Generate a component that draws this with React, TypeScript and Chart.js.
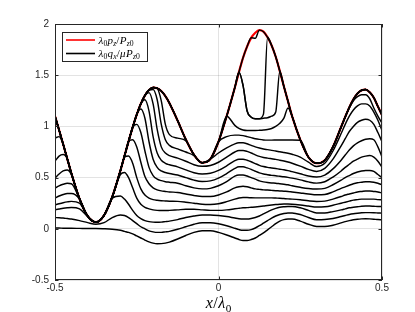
import React, { useEffect, useRef } from "react";
import { Chart, registerables } from "chart.js";
Chart.register(...registerables);

// ---------- data ----------
const xs = [
  -0.5, -0.4875, -0.475, -0.4625, -0.45, -0.425, -0.4, -0.375, -0.35, -0.325,
  -0.3, -0.2875, -0.275, -0.2625, -0.25, -0.2375, -0.225, -0.2125, -0.2, -0.1875,
  -0.175, -0.1625, -0.15, -0.125, -0.1, -0.075, -0.05, -0.025, 0, 0.025,
  0.05, 0.0625, 0.075, 0.0875, 0.1, 0.1125, 0.125, 0.1375, 0.15, 0.1625,
  0.175, 0.1875, 0.2, 0.2125, 0.225, 0.25, 0.275, 0.3, 0.325, 0.35,
  0.375, 0.3875, 0.4, 0.4125, 0.425, 0.4375, 0.45, 0.4625, 0.475, 0.4875,
  0.5,
];

const pz = [
  1.10, 0.965, 0.826, 0.684, 0.543, 0.293, 0.123, 0.065, 0.132, 0.311,
  0.568, 0.711, 0.854, 0.991, 1.116, 1.221, 1.302, 1.356, 1.379, 1.373,
  1.345, 1.295, 1.227, 1.056, 0.873, 0.723, 0.645, 0.68, 0.85, 1.10,
  1.38, 1.53, 1.67, 1.78, 1.865, 1.915, 1.94, 1.925, 1.87, 1.79,
  1.68, 1.54, 1.39, 1.245, 1.10, 0.87, 0.70, 0.64, 0.67, 0.80,
  0.994, 1.093, 1.186, 1.264, 1.321, 1.353, 1.36, 1.333, 1.28, 1.194,
  1.11,
];

const qTop = [
  1.10, 0.965, 0.826, 0.684, 0.543, 0.293, 0.123, 0.065, 0.132, 0.311,
  0.568, 0.711, 0.854, 0.991, 1.116, 1.221, 1.302, 1.356, 1.379, 1.373,
  1.345, 1.295, 1.227, 1.056, 0.873, 0.723, 0.645, 0.68, 0.85, 1.10,
  1.38, 1.53, 1.67, 1.78, 1.865, 1.86, 1.94, 1.925, 1.87, 1.79,
  1.68, 1.54, 1.39, 1.245, 1.10, 0.87, 0.70, 0.64, 0.67, 0.80,
  0.994, 1.093, 1.186, 1.264, 1.321, 1.353, 1.36, 1.333, 1.28, 1.194,
  1.11,
];

const qA = [
  1.10, 0.965, 0.826, 0.684, 0.543, 0.293, 0.123, 0.065, 0.132, 0.311,
  0.568, 0.711, 0.854, 0.991, 1.116, 1.221, 1.302, 1.356, 1.379, 1.373,
  1.345, 1.295, 1.227, 1.056, 0.873, 0.723, 0.645, 0.68, 0.85, 1.10,
  1.38, 1.53, 1.40, 1.15, 1.09, 1.075, 1.075, 1.12, 1.87, 1.79,
  1.68, 1.54, 1.39, 1.245, 1.10, 0.87, 0.70, 0.64, 0.67, 0.80,
  0.994, 1.093, 1.186, 1.264, 1.321, 1.353, 1.36, 1.333, 1.28, 1.194,
  1.11,
];

const qB = [
  1.10, 0.965, 0.826, 0.684, 0.543, 0.293, 0.123, 0.065, 0.132, 0.311,
  0.568, 0.711, 0.854, 0.991, 1.116, 1.221, 1.302, 1.356, 1.379, 1.373,
  1.345, 1.295, 1.227, 1.056, 0.873, 0.723, 0.645, 0.68, 0.85, 1.10,
  1.38, 1.53, 1.40, 1.15, 1.09, 1.075, 1.075, 1.08, 1.085, 1.10,
  1.14, 1.54, 1.39, 1.245, 1.10, 0.87, 0.70, 0.64, 0.67, 0.80,
  0.994, 1.093, 1.186, 1.264, 1.321, 1.353, 1.36, 1.333, 1.28, 1.194,
  1.11,
];

const q12 = [
  1.10, 0.965, 0.826, 0.684, 0.543, 0.293, 0.123, 0.065, 0.132, 0.311,
  0.568, 0.711, 0.854, 0.991, 1.116, 1.221, 1.302, 1.356, 1.379, 1.373,
  1.345, 1.295, 1.227, 1.056, 0.873, 0.723, 0.645, 0.68, 0.85, 1.10,
  1.01, 0.98, 0.965, 0.96, 0.96, 0.96, 0.962, 0.965, 0.97, 0.98,
  1.0, 1.03, 1.08, 1.18, 1.10, 0.87, 0.70, 0.64, 0.67, 0.80,
  0.994, 1.093, 1.186, 1.264, 1.321, 1.353, 1.36, 1.333, 1.28, 1.194,
  1.11,
];

const q11 = [
  1.10, 0.965, 0.826, 0.684, 0.543, 0.293, 0.123, 0.065, 0.132, 0.311,
  0.568, 0.711, 0.854, 0.991, 1.116, 1.221, 1.302, 1.356, 1.379, 1.37,
  1.25, 1.02, 0.92, 0.885, 0.86, 0.723, 0.645, 0.68, 0.85, 0.90,
  0.915, 0.915, 0.91, 0.90, 0.89, 0.88, 0.873, 0.868, 0.866, 0.866,
  0.867, 0.868, 0.868, 0.868, 0.868, 0.865, 0.70, 0.64, 0.67, 0.80,
  0.994, 1.09, 1.18, 1.25, 1.29, 1.31, 1.31, 1.27, 1.18, 1.10,
  1.03,
];

const q10 = [
  1.10, 0.965, 0.826, 0.684, 0.543, 0.293, 0.123, 0.065, 0.132, 0.311,
  0.568, 0.711, 0.854, 0.991, 1.116, 1.221, 1.302, 1.356, 1.36, 1.26,
  1.02, 0.87, 0.815, 0.78, 0.75, 0.715, 0.645, 0.68, 0.74, 0.79,
  0.83, 0.84, 0.84, 0.83, 0.815, 0.80, 0.789, 0.78, 0.773, 0.766,
  0.76, 0.752, 0.745, 0.738, 0.728, 0.70, 0.65, 0.608, 0.64, 0.76,
  0.93, 1.02, 1.10, 1.16, 1.20, 1.22, 1.22, 1.20, 1.14, 1.06,
  0.96,
];

const q9 = [
  1.10, 0.965, 0.826, 0.684, 0.543, 0.293, 0.123, 0.065, 0.132, 0.311,
  0.568, 0.711, 0.854, 0.991, 1.116, 1.221, 1.302, 1.33, 1.22, 0.97,
  0.80, 0.74, 0.715, 0.69, 0.66, 0.625, 0.61, 0.618, 0.65, 0.70,
  0.75, 0.765, 0.765, 0.756, 0.74, 0.722, 0.707, 0.697, 0.69, 0.684,
  0.678, 0.67, 0.662, 0.652, 0.64, 0.612, 0.58, 0.56, 0.59, 0.68,
  0.81, 0.88, 0.95, 1.0, 1.04, 1.06, 1.07, 1.06, 1.02, 0.94,
  0.85,
];

const q8 = [
  0.886, 0.90, 0.826, 0.684, 0.543, 0.293, 0.123, 0.065, 0.132, 0.311,
  0.568, 0.711, 0.854, 0.991, 1.116, 1.221, 1.26, 1.15, 0.90, 0.74,
  0.67, 0.64, 0.625, 0.605, 0.575, 0.548, 0.535, 0.542, 0.57, 0.615,
  0.665, 0.68, 0.68, 0.67, 0.655, 0.637, 0.62, 0.608, 0.60, 0.594,
  0.588, 0.582, 0.576, 0.568, 0.558, 0.537, 0.515, 0.505, 0.525, 0.585,
  0.67, 0.72, 0.77, 0.81, 0.84, 0.86, 0.875, 0.88, 0.87, 0.80,
  0.70,
];

const q7 = [
  0.66, 0.71, 0.725, 0.684, 0.543, 0.293, 0.123, 0.065, 0.132, 0.311,
  0.568, 0.711, 0.854, 0.991, 1.116, 1.17, 1.08, 0.85, 0.68, 0.60,
  0.565, 0.55, 0.54, 0.525, 0.50, 0.475, 0.462, 0.468, 0.495, 0.54,
  0.59, 0.605, 0.605, 0.595, 0.58, 0.562, 0.546, 0.535, 0.528, 0.522,
  0.518, 0.513, 0.508, 0.502, 0.495, 0.478, 0.458, 0.446, 0.46, 0.505,
  0.565, 0.60, 0.63, 0.66, 0.68, 0.70, 0.71, 0.715, 0.70, 0.66,
  0.60,
];

const q6 = [
  0.495, 0.535, 0.565, 0.575, 0.53, 0.293, 0.123, 0.065, 0.132, 0.311,
  0.568, 0.711, 0.854, 0.991, 1.02, 0.94, 0.76, 0.60, 0.52, 0.485,
  0.47, 0.46, 0.455, 0.445, 0.42, 0.40, 0.39, 0.395, 0.42, 0.46,
  0.515, 0.525, 0.525, 0.515, 0.50, 0.485, 0.468, 0.458, 0.452, 0.448,
  0.445, 0.44, 0.435, 0.43, 0.42, 0.405, 0.393, 0.388, 0.395, 0.43,
  0.475, 0.50, 0.52, 0.54, 0.555, 0.565, 0.57, 0.57, 0.56, 0.53,
  0.50,
];

const q5 = [
  0.397, 0.42, 0.435, 0.445, 0.44, 0.293, 0.123, 0.065, 0.132, 0.311,
  0.568, 0.711, 0.854, 0.87, 0.80, 0.65, 0.51, 0.44, 0.40, 0.38,
  0.37, 0.365, 0.36, 0.355, 0.34, 0.325, 0.315, 0.315, 0.33, 0.36,
  0.40, 0.41, 0.415, 0.41, 0.40, 0.39, 0.385, 0.38, 0.378, 0.375,
  0.372, 0.37, 0.367, 0.365, 0.36, 0.35, 0.34, 0.332, 0.335, 0.36,
  0.395, 0.41, 0.425, 0.44, 0.45, 0.455, 0.46, 0.46, 0.455, 0.445,
  0.43,
];

const q4 = [
  0.30, 0.32, 0.335, 0.345, 0.345, 0.29, 0.123, 0.065, 0.132, 0.311,
  0.568, 0.70, 0.71, 0.64, 0.50, 0.39, 0.33, 0.30, 0.285, 0.278,
  0.274, 0.272, 0.27, 0.268, 0.26, 0.25, 0.24, 0.238, 0.245, 0.265,
  0.29, 0.30, 0.305, 0.305, 0.303, 0.302, 0.302, 0.302, 0.302, 0.302,
  0.30, 0.298, 0.295, 0.292, 0.29, 0.283, 0.273, 0.267, 0.27, 0.29,
  0.315, 0.33, 0.34, 0.35, 0.36, 0.365, 0.37, 0.37, 0.365, 0.36,
  0.35,
];

const q3 = [
  0.234, 0.245, 0.255, 0.263, 0.268, 0.25, 0.123, 0.065, 0.132, 0.311,
  0.53, 0.55, 0.50, 0.40, 0.30, 0.24, 0.21, 0.195, 0.185, 0.18,
  0.178, 0.178, 0.18, 0.185, 0.19, 0.19, 0.185, 0.18, 0.18, 0.185,
  0.195, 0.20, 0.205, 0.207, 0.21, 0.213, 0.217, 0.222, 0.228, 0.233,
  0.237, 0.24, 0.242, 0.242, 0.24, 0.232, 0.222, 0.212, 0.215, 0.23,
  0.25, 0.26, 0.27, 0.28, 0.285, 0.29, 0.29, 0.29, 0.29, 0.285,
  0.283,
];

const q2 = [
  0.186, 0.193, 0.20, 0.205, 0.208, 0.195, 0.12, 0.065, 0.132, 0.30,
  0.32, 0.29, 0.24, 0.18, 0.13, 0.10, 0.08, 0.07, 0.065, 0.063,
  0.065, 0.07, 0.075, 0.09, 0.11, 0.125, 0.135, 0.135, 0.13, 0.12,
  0.105, 0.098, 0.095, 0.095, 0.10, 0.11, 0.125, 0.145, 0.165, 0.185,
  0.20, 0.21, 0.215, 0.218, 0.218, 0.205, 0.18, 0.155, 0.155, 0.168,
  0.185, 0.195, 0.205, 0.21, 0.215, 0.22, 0.222, 0.222, 0.22, 0.218,
  0.218,
];

const q1 = [
  0.11, 0.108, 0.105, 0.10, 0.095, 0.08, 0.06, 0.045, 0.06, 0.11,
  0.135, 0.13, 0.11, 0.08, 0.05, 0.02, 0.0, -0.02, -0.03, -0.035,
  -0.035, -0.03, -0.025, -0.005, 0.02, 0.045, 0.06, 0.06, 0.05, 0.03,
  0.005, -0.008, -0.015, -0.015, -0.008, 0.008, 0.03, 0.055, 0.08, 0.105,
  0.125, 0.14, 0.15, 0.155, 0.155, 0.14, 0.11, 0.088, 0.09, 0.10,
  0.12, 0.13, 0.14, 0.147, 0.152, 0.156, 0.158, 0.158, 0.157, 0.155,
  0.153,
];

const q0 = [
  0.007, 0.007, 0.006, 0.006, 0.005, 0.004, 0.003, 0.003, 0.0, -0.005,
  -0.015, -0.025, -0.035, -0.05, -0.07, -0.09, -0.11, -0.128, -0.14, -0.146,
  -0.145, -0.14, -0.13, -0.10, -0.065, -0.035, -0.02, -0.02, -0.035, -0.06,
  -0.09, -0.105, -0.115, -0.115, -0.105, -0.09, -0.065, -0.04, -0.01, 0.02,
  0.05, 0.075, 0.09, 0.095, 0.095, 0.075, 0.045, 0.023, 0.022, 0.035,
  0.058, 0.07, 0.08, 0.088, 0.094, 0.097, 0.098, 0.097, 0.094, 0.09,
  0.088,
];

const qCurves = [q0, q1, q2, q3, q4, q5, q6, q7, q8, q9, q10, q11, q12, qB, qA, qTop];

const xTicks = [-0.5, 0, 0.5];
const xTickLabels = ["-0.5", "0", "0.5"];
const yTicks = [-0.5, 0, 0.5, 1, 1.5, 2];
const yTickLabels = ["-0.5", "0", "0.5", "1", "1.5", "2"];

// ---------- drawing helpers ----------
type Part = [string, string]; // kind: i (italic), r (roman), si (sub italic), sr (sub roman)
const SERIF = '"Liberation Serif", "DejaVu Serif", serif';

function mathWidth(ctx: CanvasRenderingContext2D, parts: Part[], size: number) {
  let w = 0;
  for (const [t, k] of parts) {
    const sub = k[0] === "s";
    const it = k.endsWith("i");
    const fs = sub ? size * 0.7 : size;
    ctx.font = `${it ? "italic " : ""}${fs}px ${SERIF}`;
    w += ctx.measureText(t).width;
  }
  return w;
}

function drawMath(ctx: CanvasRenderingContext2D, x: number, y: number, parts: Part[], size: number) {
  let cx = x;
  for (const [t, k] of parts) {
    const sub = k[0] === "s";
    const it = k.endsWith("i");
    const fs = sub ? size * 0.7 : size;
    ctx.font = `${it ? "italic " : ""}${fs}px ${SERIF}`;
    ctx.fillText(t, cx, y + (sub ? size * 0.22 : 0));
    cx += ctx.measureText(t).width + (sub ? 0 : size * 0.03);
  }
}

const legend1: Part[] = [["λ", "i"], ["0", "sr"], ["p", "i"], ["z", "si"], ["/", "r"], ["P", "i"], ["z", "si"], ["0", "sr"]];
const legend2: Part[] = [["λ", "i"], ["0", "sr"], ["q", "i"], ["x", "si"], ["/", "r"], ["μ", "i"], ["P", "i"], ["z", "si"], ["0", "sr"]];
const xTitle: Part[] = [["x", "i"], ["/", "r"], ["λ", "i"], ["0", "sr"]];

const decor = {
  id: "decor",
  afterDraw(chart: any) {
    const { ctx, chartArea: a, scales } = chart;
    ctx.save();
    // axes box
    ctx.strokeStyle = "#262626";
    ctx.lineWidth = 1;
    ctx.strokeRect(Math.round(a.left) + 0.5, Math.round(a.top) + 0.5, Math.round(a.right - a.left) - 1, Math.round(a.bottom - a.top) - 1);
    // inward ticks
    const tl = 3.5;
    ctx.beginPath();
    for (const v of xTicks) {
      const px = Math.round(scales.x.getPixelForValue(v)) + 0.5;
      ctx.moveTo(px, a.bottom); ctx.lineTo(px, a.bottom - tl);
      ctx.moveTo(px, a.top); ctx.lineTo(px, a.top + tl);
    }
    for (const v of yTicks) {
      const py = Math.round(scales.y.getPixelForValue(v)) + 0.5;
      ctx.moveTo(a.left, py); ctx.lineTo(a.left + tl, py);
      ctx.moveTo(a.right, py); ctx.lineTo(a.right - tl, py);
    }
    ctx.stroke();

    // legend
    const lx = 62.5, ly = 32.5, lw = 85, lh = 29;
    ctx.fillStyle = "#ffffff";
    ctx.fillRect(lx, ly, lw, lh);
    ctx.strokeStyle = "#262626";
    ctx.lineWidth = 1;
    ctx.strokeRect(lx, ly, lw, lh);
    ctx.lineWidth = 1.6;
    ctx.strokeStyle = "#ff0000";
    ctx.beginPath(); ctx.moveTo(66, 40); ctx.lineTo(95, 40); ctx.stroke();
    ctx.strokeStyle = "#000000";
    ctx.beginPath(); ctx.moveTo(66, 53.5); ctx.lineTo(95, 53.5); ctx.stroke();
    ctx.fillStyle = "#000000";
    ctx.textBaseline = "alphabetic";
    ctx.textAlign = "left";
    drawMath(ctx, 98.5, 43.5, legend1, 11);
    drawMath(ctx, 98.5, 57, legend2, 11);

    // x axis title
    const tw = mathWidth(ctx, xTitle, 16) + 16 * 0.09;
    const cx = (a.left + a.right) / 2;
    drawMath(ctx, cx - tw / 2, 308, xTitle, 16);
    ctx.restore();
  },
};

export default function App() {
  const ref = useRef<HTMLCanvasElement | null>(null);
  useEffect(() => {
    document.body.style.margin = "0";
    const canvas = ref.current;
    if (!canvas) return;
    const datasets: any[] = [];
    qCurves.forEach((arr) => {
      datasets.push({
        data: xs.map((x, i) => ({ x, y: arr[i] })),
        borderColor: "#000000",
        borderWidth: 1.45,
        order: 0,
      });
    });
    datasets.push({
      data: xs.map((x, i) => ({ x, y: pz[i] })),
      borderColor: "#ff0000",
      borderWidth: 2.2,
      order: 1,
    });
    const tickFont = { family: '"Liberation Sans", Arial, sans-serif', size: 10 };
    const chart = new Chart(canvas, {
      type: "line",
      data: { datasets },
      plugins: [decor],
      options: {
        animation: false,
        responsive: false,
        events: [],
        layout: { padding: { top: 24, right: 33, left: 0, bottom: 0 } },
        elements: {
          point: { radius: 0 },
          line: { cubicInterpolationMode: "monotone", fill: false },
        },
        plugins: { legend: { display: false }, tooltip: { enabled: false } },
        scales: {
          x: {
            type: "linear",
            min: -0.5,
            max: 0.5,
            afterBuildTicks: (s: any) => { s.ticks = xTicks.map((v) => ({ value: v })); },
            afterFit: (s: any) => { s.height = 32; },
            ticks: {
              callback: (_v: any, i: number) => xTickLabels[i],
              font: tickFont,
              color: "#262626",
              padding: 2,
              maxRotation: 0,
              autoSkip: false,
            },
            grid: { color: "rgba(38,38,38,0.13)", drawTicks: false },
            border: { display: false },
          },
          y: {
            type: "linear",
            min: -0.5,
            max: 2,
            afterBuildTicks: (s: any) => { s.ticks = yTicks.map((v) => ({ value: v })); },
            afterFit: (s: any) => { s.width = 55; },
            ticks: {
              callback: (_v: any, i: number) => yTickLabels[i],
              font: tickFont,
              color: "#262626",
              padding: 6,
              autoSkip: false,
            },
            grid: { color: "rgba(38,38,38,0.13)", drawTicks: false },
            border: { display: false },
          },
        },
      } as any,
    });
    return () => chart.destroy();
  }, []);
  return (
    <div style={{ width: 415, height: 312, background: "#fff" }}>
      <canvas ref={ref} width={415} height={312} style={{ display: "block" }} />
    </div>
  );
}
